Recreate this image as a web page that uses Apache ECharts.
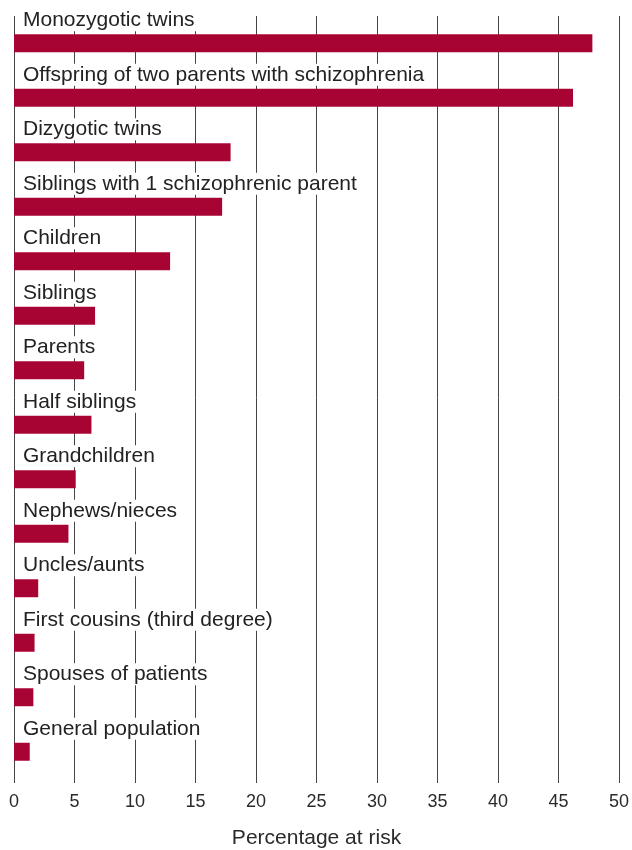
<!DOCTYPE html>
<html>
<head>
<meta charset="utf-8">
<script src="https://cdn.jsdelivr.net/npm/echarts@6/dist/echarts.min.js"></script>
<style>html,body{margin:0;padding:0;background:#fff;}#c{width:632px;height:850px;}</style>
</head>
<body>
<div id="c"></div>
<script>
var categories = [
  "Monozygotic twins",
  "Offspring of two parents with schizophrenia",
  "Dizygotic twins",
  "Siblings with 1 schizophrenic parent",
  "Children",
  "Siblings",
  "Parents",
  "Half siblings",
  "Grandchildren",
  "Nephews/nieces",
  "Uncles/aunts",
  "First cousins (third degree)",
  "Spouses of patients",
  "General population"
];
var riskValues = [47.8, 46.2, 17.9, 17.2, 12.9, 6.7, 5.8, 6.4, 5.1, 4.5, 2.0, 1.7, 1.6, 1.3];
var xTicks = [0, 5, 10, 15, 20, 25, 30, 35, 40, 45, 50];
var xTitle = "Percentage at risk";

var chart = echarts.init(document.getElementById('c'), null, {renderer: 'canvas'});
var font = "'Liberation Sans', Arial, Helvetica, sans-serif";
chart.setOption({
  animation: false,
  backgroundColor: '#ffffff',
  grid: {left: 14, right: 13, top: 16, bottom: 71, containLabel: false, outerBoundsMode: 'none'},
  xAxis: {
    type: 'value',
    min: xTicks[0],
    max: xTicks[xTicks.length - 1],
    interval: 5,
    axisLine: {show: false},
    axisTick: {show: true, length: 4, lineStyle: {color: '#444', width: 1}},
    splitLine: {show: true, lineStyle: {color: '#444', width: 1}},
    axisLabel: {fontFamily: font, fontSize: 18, color: '#2a2a2a', margin: 14},
    name: xTitle,
    nameLocation: 'middle',
    nameGap: 49,
    nameTextStyle: {fontFamily: font, fontSize: 21, color: '#2a2a2a'}
  },
  yAxis: {
    type: 'category',
    data: categories,
    inverse: true,
    axisLine: {show: false},
    axisTick: {show: false},
    axisLabel: {show: false},
    splitLine: {show: false}
  },
  series: [{
    type: 'bar',
    data: riskValues,
    barWidth: 18,
    itemStyle: {color: '#a80433'},
    label: {
      show: true,
      position: [7, -3],
      verticalAlign: 'bottom',
      align: 'left',
      formatter: function (p) { return p.name; },
      fontFamily: font,
      fontSize: 21,
      lineHeight: 22,
      padding: [0, 2, 0, 2],
      backgroundColor: '#ffffff',
      color: '#222'
    }
  }]
});
</script>
</body>
</html>
